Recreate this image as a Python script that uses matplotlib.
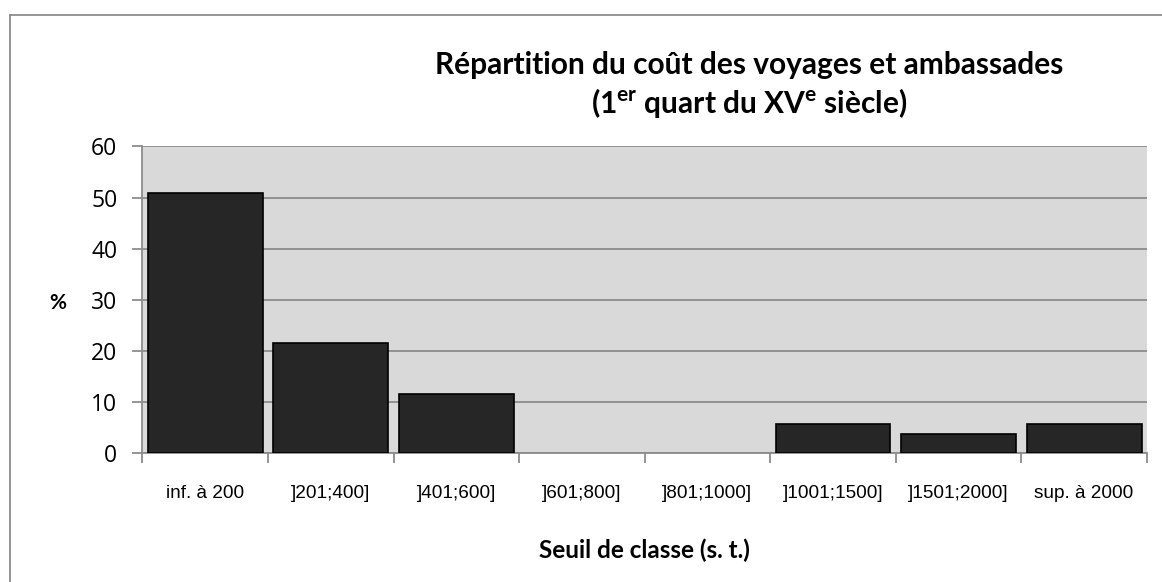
import matplotlib
matplotlib.use("Agg")
import matplotlib.pyplot as plt
from matplotlib.lines import Line2D

# cost classes (sous tournois) and share of journeys, in %
classes = ["inf. à 200", "]201;400]", "]401;600]", "]601;800]", "]801;1000]",
           "]1001;1500]", "]1501;2000]", "sup. à 2000"]
share = [51.0, 21.5, 11.7, 0, 0, 5.8, 3.9, 5.8]
y_ticks = [0, 10, 20, 30, 40, 50, 60]

plt.rcParams["mathtext.fontset"] = "custom"
plt.rcParams["mathtext.rm"] = "Lato:bold"
plt.rcParams["mathtext.bf"] = "Lato:bold"

fig = plt.figure(figsize=(11.62, 5.82), dpi=100)
ax = fig.add_axes([0.1226, 0.2208, 0.8644, 0.5275])

ax.set_facecolor("#d9d9d9")
x = range(len(classes))
edges = ["#000000" if v > 0 else "none" for v in share]
ax.bar(x, share, width=0.915, color="#262626", edgecolor=edges, linewidth=1.2, zorder=3)

ax.set_xlim(-0.5, len(classes) - 0.5)
ax.set_ylim(0, 60)
ax.set_yticks(y_ticks)
ax.set_yticklabels([str(v) for v in y_ticks], fontsize=16.5, family="Open Sans")
ax.yaxis.grid(True, color="#8c8c8c", linewidth=1.3, zorder=1)

# category boundaries carry the ticks, labels sit at the centres
ax.set_xticks([i - 0.5 for i in range(len(classes) + 1)])
ax.set_xticklabels([])
ax.set_xticks(list(x), minor=True)
ax.set_xticklabels(classes, minor=True, fontsize=13.7, family="Liberation Sans")
ax.tick_params(axis="x", which="minor", length=0, pad=23)
ax.tick_params(axis="x", which="major", length=7, color="#8c8c8c", width=1.3)
ax.tick_params(axis="y", length=7, color="#8c8c8c", width=1.3, pad=11)

for side in ["top", "right"]:
    ax.spines[side].set_visible(False)
for side in ["left", "bottom"]:
    ax.spines[side].set_color("#8c8c8c")
    ax.spines[side].set_linewidth(1.3)

fig.text(0.645, 0.888, "Répartition du coût des voyages et ambassades",
         ha="center", va="center", fontsize=21.5, fontweight="bold", family="Lato")
fig.text(0.645, 0.823, r"(1$^{\mathbf{er}}$ quart du XV$^{\mathbf{e}}$ siècle)",
         ha="center", va="center", fontsize=21.5, fontweight="bold", family="Lato")
fig.text(0.0495, 0.479, "%", ha="center", va="center", fontsize=15,
         fontweight="bold", family="Lato")
fig.text(0.555, 0.055, "Seuil de classe (s. t.)", ha="center", va="center",
         fontsize=17.5, fontweight="bold", family="Lato")

# outer chart frame
fig.add_artist(Line2D([0.0082, 0.0082], [0, 0.9742], color="#8c8c8c", linewidth=1.3))
fig.add_artist(Line2D([0.0082, 1.0], [0.9742, 0.9742], color="#8c8c8c", linewidth=1.3))

fig.savefig("out.png", dpi=100)
